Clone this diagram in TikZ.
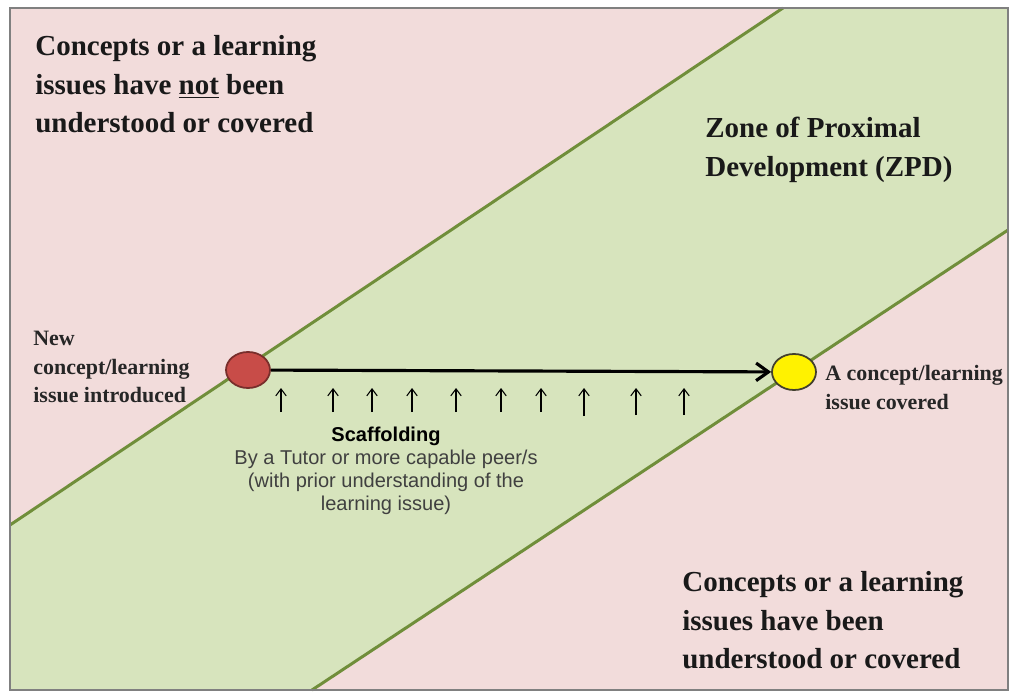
\documentclass[tikz,border=0pt]{standalone}
\usepackage{fontspec}
\setmainfont{Liberation Serif}
\newfontfamily\scaffont{Liberation Sans}
\usetikzlibrary{arrows.meta,shapes.geometric}
\definecolor{notpink}{RGB}{242,220,219}
\definecolor{zpdgreen}{RGB}{215,228,189}
\definecolor{zpdline}{RGB}{112,142,58}
\definecolor{startred}{RGB}{200,76,72}
\definecolor{framegrey}{RGB}{128,128,128}
\tikzset{
  bigtext/.style={align=left, inner sep=0pt, anchor=north west, text=black!90,
    font=\bfseries\fontsize{16.5}{22}\selectfont},
  smalltext/.style={align=left, inner sep=0pt, anchor=north west, text=black!85,
    font=\bfseries\fontsize{12.5}{16.2}\selectfont},
  issuedot/.style={ellipse, draw, line width=1pt, minimum width=0.88cm, minimum height=0.72cm, inner sep=0pt},
  scafarrow/.style={line width=0.6pt, -{Straight Barb[length=4pt,width=6pt]}}
}
\begin{document}
\begin{tikzpicture}[x=0.02cm,y=-0.02cm]
			%%%%% START %%%%%
			\useasboundingbox (0,0) rectangle (1012,693);
			\fill[white] (0,0) rectangle (1012,693);
			
			\fill[notpink] (10,8) rectangle (1008,690);
			\fill[zpdgreen] (10,525) -- (783,8) -- (1008,8) -- (1008,230) -- (312,690) -- (10,690) -- cycle;
			\draw[line width=1.7pt, color=zpdline] (10,525) -- (783,8);
			\draw[line width=1.7pt, color=zpdline] (1008,230) -- (312,690);
			\draw[line width=1.2pt, color=framegrey] (10,8) rectangle (1008,690);
			
			\node[bigtext] (notyet) at (35,35) {Concepts or a learning\\issues have \underline{not} been\\understood or covered};
			\node[bigtext] (zpd) at (705,117) {Zone of Proximal\\Development (ZPD)};
			\node[bigtext] (covered) at (682,571) {Concepts or a learning\\issues have been\\understood or covered};
			
			\node[smalltext] (newlbl) at (33,331) {New\\concept/learning\\issue introduced};
			\node[smalltext] (donelbl) at (825,365) {A concept/learning\\issue covered};
			
			\node[issuedot, fill=startred, draw=startred!60!black] (start) at (248,370) {};
			\node[issuedot, fill=yellow, draw=black!70!olive] (finish) at (794,372) {};
			\draw[line width=1.8pt, -{Straight Barb[length=7pt,width=10pt]}] (start) -- (finish);
			
			\foreach \x/\b in {281/412, 333/412, 372/412, 412/412, 456/412, 501/412, 541/412, 584/416, 636/415, 684/415}
				\draw[scafarrow] (\x,\b) -- (\x,388);
			
			\node[align=center, inner sep=0pt, anchor=north, font=\scaffont\fontsize{11.4}{13}\selectfont, text=black!75] (scaf) at (386,427)
				{{\bfseries\color{black}Scaffolding}\\By a Tutor or more capable peer/s\\(with prior understanding of the\\learning issue)};
			
			%%%%% END %%%%%
\end{tikzpicture}
\end{document}
